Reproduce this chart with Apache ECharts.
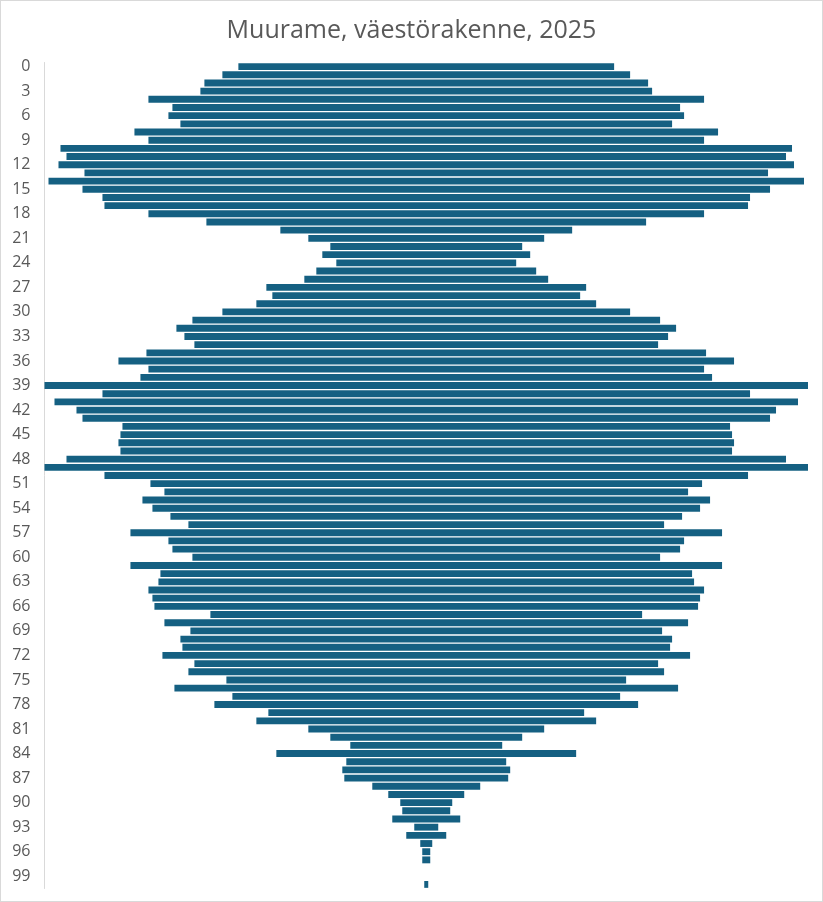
<!DOCTYPE html>
<html>
<head>
<meta charset="utf-8">
<script src="https://cdn.jsdelivr.net/npm/echarts@6/dist/echarts.min.js"></script>
<style>
html,body{margin:0;padding:0;background:#fff;}
#wrap{position:relative;width:823px;height:902px;}
#chart{width:823px;height:902px;}
#frame{position:absolute;left:0;top:0;width:823px;height:902px;box-sizing:border-box;border:1px solid #d9d9d9;pointer-events:none;}
</style>
</head>
<body>
<div id="wrap"><div id="chart"></div><div id="frame"></div></div>
<script>
var titleText = 'Muurame, väestörakenne, 2025';
var ages = [];
for (var a = 0; a <= 100; a++) ages.push(String(a));
var population = [
  94,102,111,113,139,127,129,123,146,139,
  183,180,184,171,189,172,162,161,139,110,
  73,59,48,52,45,55,61,80,77,85,
  102,117,125,121,116,140,154,139,143,191,
  162,186,175,172,152,153,154,153,180,191,
  161,138,131,142,137,128,119,148,129,127,
  117,148,133,134,139,137,136,108,131,118,
  123,122,132,116,119,100,126,97,106,79,
  85,59,48,38,75,40,42,41,27,19,
  13,12,17,6,10,3,2,2,0,0,
  1
];
var maxVal = Math.max.apply(null, population);
var offsets = population.map(function(v){ return (maxVal - v) / 2; });

var chart = echarts.init(document.getElementById('chart'), null, {renderer:'canvas'});
chart.setOption({
  animation: false,
  backgroundColor: '#ffffff',
  title: {
    text: titleText,
    left: 'center',
    top: 13,
    textStyle: {color:'#595959', fontSize:25, fontWeight:'normal', fontFamily:'Open Sans'}
  },
  grid: {left: 44.5, right: 15, top: 62.5, bottom: 13.5, containLabel: false},
  xAxis: {
    type: 'value', min: 0, max: maxVal,
    show: false
  },
  yAxis: {
    type: 'category', data: ages, inverse: true,
    axisLine: {show: true, lineStyle: {color:'#d9d9d9', width:1}},
    axisTick: {show: false},
    axisLabel: {interval: 2, color:'#595959', fontSize:16, margin:14, fontFamily:'Open Sans', padding:[3,0,0,0]},
    splitLine: {show: false}
  },
  series: [
    {type:'bar', stack:'p', data: offsets, itemStyle:{color:'transparent'}, barCategoryGap:'16%', silent:true},
    {type:'bar', stack:'p', data: population, itemStyle:{color:'#156082'}, barCategoryGap:'16%'}
  ]
});
</script>
</body>
</html>
